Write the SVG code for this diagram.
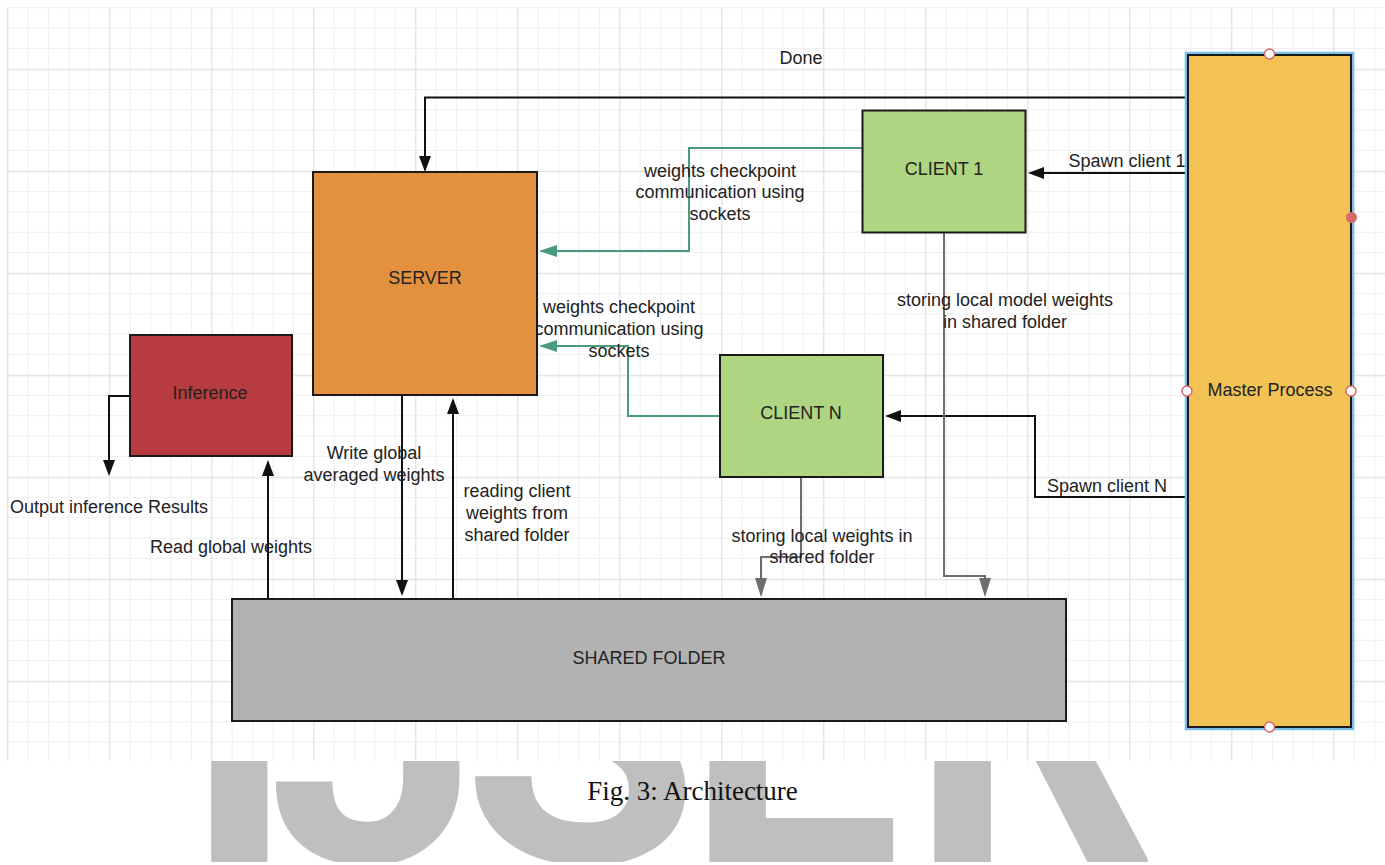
<svg xmlns="http://www.w3.org/2000/svg" width="1385" height="865" viewBox="0 0 1385 865">
<style>
.t{font-family:"Liberation Sans",Arial,sans-serif;font-size:18px;fill:#222;text-anchor:middle}
.box{stroke:#1a1a1a;stroke-width:2}
.blk{fill:none;stroke:#111;stroke-width:2}
.gry{fill:none;stroke:#6e6e6e;stroke-width:2}
.grn{fill:none;stroke:#4a9a7e;stroke-width:2}
.hdl{fill:#fff;stroke:#d9686b;stroke-width:1.5}
</style>
<defs>
<pattern id="minor" patternUnits="userSpaceOnUse" x="7.3" y="7.3" width="20.4" height="20.4">
<path d="M0 0.5H20.4M0.5 0V20.4" stroke="#efefef" stroke-width="1" fill="none"/>
</pattern>
<pattern id="major" patternUnits="userSpaceOnUse" x="7.3" y="69.3" width="102" height="102">
<path d="M0 0.5H102M0.5 0V102" stroke="#e0e0e0" stroke-width="1" fill="none"/>
</pattern>
<clipPath id="wm"><rect x="0" y="761" width="1385" height="101"/></clipPath>
<marker id="ab" markerUnits="userSpaceOnUse" markerWidth="16" markerHeight="12" viewBox="0 0 16 12" refX="14" refY="6" orient="auto"><path d="M0,0L16,6L0,12z" fill="#111"/></marker>
<marker id="ag" markerUnits="userSpaceOnUse" markerWidth="19" markerHeight="12" viewBox="0 0 19 12" refX="17" refY="6" orient="auto"><path d="M0,0L19,6L0,12z" fill="#6e6e6e"/></marker>
<marker id="an" markerUnits="userSpaceOnUse" markerWidth="18" markerHeight="12" viewBox="0 0 18 12" refX="16" refY="6" orient="auto"><path d="M0,0L18,6L0,12z" fill="#4a9a7e"/></marker>
</defs>
<rect width="1385" height="865" fill="#fff"/>
<g id="watermark" clip-path="url(#wm)">
<text x="183 268 462 685 910" y="862" font-family="Roboto,'Liberation Sans',sans-serif" font-weight="bold" font-size="385" fill="#bfbfbf">IJSER</text>
</g>
<g id="grid">
<rect x="7" y="7" width="1378" height="754" fill="url(#minor)"/>
<rect x="7" y="7" width="1378" height="754" fill="url(#major)"/>
</g>
<g id="connectors">
<path class="blk" d="M1188,97.5H425V170" marker-end="url(#ab)"/>
<path class="blk" d="M1188,173H1030" marker-end="url(#ab)"/>
<path class="blk" d="M1188,497H1035V416H887" marker-end="url(#ab)"/>
<path class="gry" d="M944,233V576H985V595" marker-end="url(#ag)"/>
<path class="gry" d="M801,477V557H761V595" marker-end="url(#ag)"/>
<path class="grn" d="M862,148H689V251H541" marker-end="url(#an)"/>
<path class="grn" d="M720,416H628V346H541" marker-end="url(#an)"/>
<path class="blk" d="M402,395V594" marker-end="url(#ab)"/>
<path class="blk" d="M453,599V400" marker-end="url(#ab)"/>
<path class="blk" d="M268,599V462" marker-end="url(#ab)"/>
<path class="blk" d="M130,396H109V474" marker-end="url(#ab)"/>
<text class="t" x="801" y="64">Done</text>
<text class="t" x="1127" y="167">Spawn client 1</text>
<text class="t" x="1107" y="492">Spawn client N</text>
<text class="t" x="1005" y="306">storing local model weights</text>
<text class="t" x="1005" y="328">in shared folder</text>
<text class="t" x="822" y="542">storing local weights in</text>
<text class="t" x="822" y="563">shared folder</text>
<text class="t" x="720" y="177">weights checkpoint</text>
<text class="t" x="720" y="198">communication using</text>
<text class="t" x="720" y="220">sockets</text>
<text class="t" x="619" y="313">weights checkpoint</text>
<text class="t" x="619" y="335">communication using</text>
<text class="t" x="619" y="357">sockets</text>
<text class="t" x="374" y="459">Write global</text>
<text class="t" x="374" y="481">averaged weights</text>
<text class="t" x="517" y="497">reading client</text>
<text class="t" x="517" y="519">weights from</text>
<text class="t" x="517" y="541">shared folder</text>
<text class="t" x="231" y="553">Read global weights</text>
<text class="t" x="109" y="513">Output inference Results</text>
</g>
<g id="server">
<rect class="box" x="313" y="172" width="224" height="223" fill="#e3913f"/>
<text class="t" x="425" y="284">SERVER</text>
</g>
<g id="client1">
<rect class="box" x="862.5" y="110.5" width="163" height="122" fill="#aed581"/>
<text class="t" x="944" y="175">CLIENT 1</text>
</g>
<g id="clientN">
<rect class="box" x="720" y="355" width="163" height="122" fill="#aed581"/>
<text class="t" x="801" y="419">CLIENT N</text>
</g>
<g id="inference">
<rect class="box" x="130" y="335" width="162" height="121" fill="#b83b3f"/>
<text class="t" x="210" y="399">Inference</text>
</g>
<g id="shared">
<rect class="box" x="232" y="599" width="834" height="122" fill="#b2b2b2"/>
<text class="t" x="649" y="664">SHARED FOLDER</text>
</g>
<g id="master">
<rect x="1186" y="53" width="167" height="676" fill="none" stroke="#7bbde6" stroke-width="2.5"/>
<rect class="box" x="1188" y="55" width="163" height="672" fill="#f2c255"/>
<text class="t" x="1270" y="396">Master Process</text>
<circle class="hdl" cx="1269.5" cy="54" r="5"/>
<circle class="hdl" cx="1269.5" cy="727" r="5"/>
<circle class="hdl" cx="1187" cy="391" r="5"/>
<circle class="hdl" cx="1351" cy="391" r="5"/>
<circle cx="1351.5" cy="217.5" r="5.5" fill="#d9686b"/>
</g>
<text x="692.5" y="800" font-family="'Liberation Serif','Times New Roman',serif" font-size="27" fill="#111" text-anchor="middle">Fig. 3: Architecture</text>
</svg>
